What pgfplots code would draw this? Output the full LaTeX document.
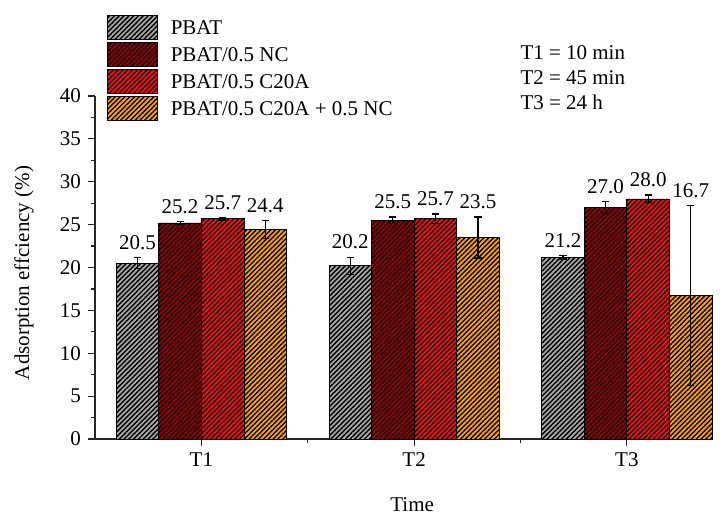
\documentclass[border=0pt]{standalone}
\usepackage{pgfplots}
\pgfplotsset{compat=1.18}
\usepackage{pgfplotstable}
\usepackage{fontspec}
\setmainfont{Liberation Serif}
\usetikzlibrary{patterns.meta}
\definecolor{cgray}{HTML}{A8A8A8}
\definecolor{cdred}{HTML}{9C0000}
\definecolor{cred}{HTML}{FF1010}
\definecolor{corange}{HTML}{FFA500}
\pgfplotstableread{
x  g    ge    gl    d    de    dl    r    re    rl    o    oe    ol
1  20.5 0.65  20.5  25.2 0.15  25.2  25.7 0.15  25.7  24.4 1.05  24.4
2  20.2 1.0   20.2  25.5 0.4   25.5  25.7 0.55  25.7  23.5 2.4   23.5
3  21.2 0.2   21.2  27.0 0.7   27.0  28.0 0.45  28.0  16.7 10.5  16.7
}\data
\tikzset{
  hatch/.style={postaction={pattern={Lines[angle=45,distance=1.7pt,line width=0.7pt]},pattern color=black}}
}
\newcommand{\fs}{\fontsize{10.5}{12.5}\selectfont}
\begin{document}
\begin{tikzpicture}
\useasboundingbox (-47.5pt,-38pt) rectangle (314.5pt,219.5pt);
\begin{axis}[
  scale only axis,
  width=308.5pt, height=171.5pt,
  at={(0,0)}, anchor=south west,
  clip=false,
  xmin=0.5, xmax=3.4,
  ymin=0, ymax=40,
  axis x line=bottom, axis y line=left,
  axis line style={-, line width=0.6pt, black!85},
  xtick={1,2,3}, xticklabels={T1,T2,T3},
  minor xtick={1.5,2.5},
  ytick={0,5,...,40}, minor y tick num=1,
  tick align=outside,
  major tick length=3.5pt, minor tick length=2pt,
  tick style={line width=0.6pt, black!85},
  ticklabel style={font=\fs},
  /pgf/number format/assume math mode=true,
  xlabel={Time},
  ylabel={Adsorption effciency (\%)},
  label style={font=\fs},
  xlabel style={at={(axis description cs:0.514,-0.1924)}, anchor=center},
  ylabel style={at={(axis description cs:-0.1151,0.484)}, anchor=center},
  legend cell align=left,
  legend style={draw=none, fill=none, inner sep=0pt, outer sep=0pt,
    at={(axis description cs:0.0194,1.236)}, anchor=north west,
    font=\fs, row sep=1.15pt, column sep=6.5pt,
    nodes={inner sep=0pt, anchor=base west}},
  legend image code/.code={\draw[#1] (0pt,-2.5pt) rectangle (25pt,9.5pt);},
  errb/.style={forget plot, draw=none, no markers,
    error bars/y dir=both, error bars/y explicit,
    error bars/error bar style={draw=black, solid, line width=0.6pt},
    error bars/error mark options={rotate=90, draw=black, solid, mark size=1.8pt, line width=0.6pt}},
  lbl/.style={forget plot, draw=none, no markers, nodes near coords,
    point meta=explicit symbolic,
    nodes near coords style={font=\fs, anchor=south, inner sep=0pt, yshift=3.8pt, black}},
]
\addplot[ybar, bar width=0.2, bar shift=-0.3, draw=black, line width=0.4pt, fill=cgray, hatch]
  table[x=x, y=g] {\data};
\addlegendentry{PBAT}
\addplot[ybar, bar width=0.2, bar shift=-0.1, draw=black, line width=0.4pt, fill=cdred, hatch]
  table[x=x, y=d] {\data};
\addlegendentry{PBAT/0.5 NC}
\addplot[ybar, bar width=0.2, bar shift=0.1, draw=black, line width=0.4pt, fill=cred, hatch]
  table[x=x, y=r] {\data};
\addlegendentry{PBAT/0.5 C20A}
\addplot[ybar, bar width=0.2, bar shift=0.3, draw=black, line width=0.4pt, fill=corange, hatch]
  table[x=x, y=o] {\data};
\addlegendentry{PBAT/0.5 C20A + 0.5 NC}
% error bars
\addplot[errb] table[x expr=\thisrow{x}-0.3, y=g, y error=ge] {\data};
\addplot[errb] table[x expr=\thisrow{x}-0.1, y=d, y error=de] {\data};
\addplot[errb] table[x expr=\thisrow{x}+0.1, y=r, y error=re] {\data};
\addplot[errb] table[x expr=\thisrow{x}+0.3, y=o, y error=oe] {\data};
% value labels
\addplot[lbl] table[x expr=\thisrow{x}-0.3, y expr=\thisrow{g}+\thisrow{ge}, meta=gl] {\data};
\addplot[lbl] table[x expr=\thisrow{x}-0.1, y expr=\thisrow{d}+\thisrow{de}, meta=dl] {\data};
\addplot[lbl] table[x expr=\thisrow{x}+0.1, y expr=\thisrow{r}+\thisrow{re}, meta=rl] {\data};
\addplot[lbl] table[x expr=\thisrow{x}+0.3, y expr=\thisrow{o}+\thisrow{oe}, meta=ol] {\data};
\node[anchor=north west, inner sep=0pt, align=left, font=\fs] at (axis description cs:0.689,1.149)
  {T1 = 10 min\\T2 = 45 min\\T3 = 24 h};
\end{axis}
\end{tikzpicture}
\end{document}
